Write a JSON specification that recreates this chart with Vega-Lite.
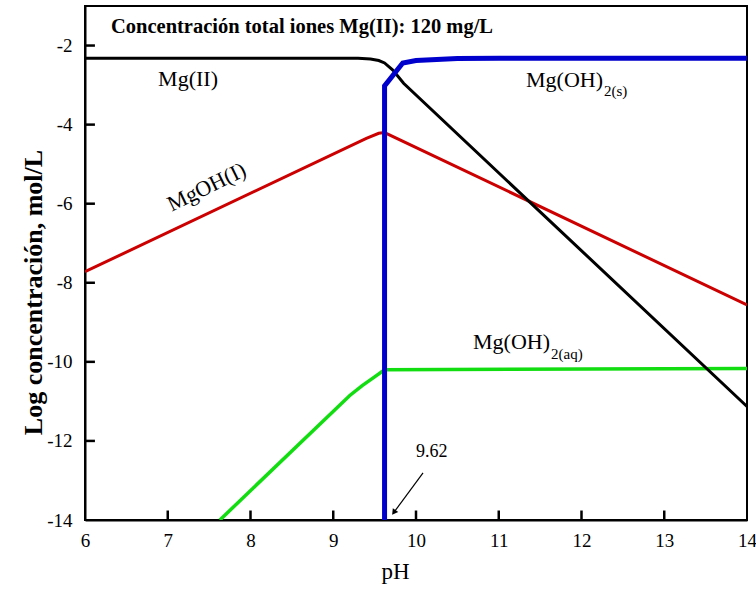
{
  "$schema": "https://vega.github.io/schema/vega-lite/v6.json",
  "width": 662,
  "height": 514,
  "autosize": "none",
  "padding": {"left": 85, "top": 6, "right": 9, "bottom": 72},
  "background": "white",
  "config": {
    "view": {"stroke": "black", "strokeWidth": 2},
    "font": "Liberation Serif"
  },
  "datasets": {
    "curves": [
      {"species": "MgOH", "pH": 6, "logC": -7.72},
      {"species": "MgOH", "pH": 9.4, "logC": -4.35},
      {"species": "MgOH", "pH": 9.55, "logC": -4.22},
      {"species": "MgOH", "pH": 9.62, "logC": -4.2},
      {"species": "MgOH", "pH": 14, "logC": -8.56},
      {"species": "MgOH2aq", "pH": 7.63, "logC": -14},
      {"species": "MgOH2aq", "pH": 9.2, "logC": -10.85},
      {"species": "MgOH2aq", "pH": 9.35, "logC": -10.6},
      {"species": "MgOH2aq", "pH": 9.5, "logC": -10.38},
      {"species": "MgOH2aq", "pH": 9.62, "logC": -10.2},
      {"species": "MgOH2aq", "pH": 14, "logC": -10.17},
      {"species": "MgII", "pH": 6, "logC": -2.32},
      {"species": "MgII", "pH": 9.3, "logC": -2.32},
      {"species": "MgII", "pH": 9.45, "logC": -2.34},
      {"species": "MgII", "pH": 9.55, "logC": -2.38},
      {"species": "MgII", "pH": 9.62, "logC": -2.44},
      {"species": "MgII", "pH": 9.72, "logC": -2.62},
      {"species": "MgII", "pH": 9.85, "logC": -2.955},
      {"species": "MgII", "pH": 14, "logC": -11.13},
      {"species": "MgOH2s", "pH": 9.62, "logC": -14},
      {"species": "MgOH2s", "pH": 9.62, "logC": -3.02},
      {"species": "MgOH2s", "pH": 9.84, "logC": -2.44},
      {"species": "MgOH2s", "pH": 10.0, "logC": -2.38},
      {"species": "MgOH2s", "pH": 10.5, "logC": -2.33},
      {"species": "MgOH2s", "pH": 11.0, "logC": -2.32},
      {"species": "MgOH2s", "pH": 14, "logC": -2.32}
    ]
  },
  "layer": [
    {
      "data": {"name": "curves"},
      "transform": [{"filter": "datum.species === 'MgOH'"}],
      "mark": {"type": "line", "color": "#cc0000", "strokeWidth": 3, "clip": true},
      "encoding": {
        "x": {
          "field": "pH", "type": "quantitative",
          "scale": {"domain": [6, 14], "nice": false, "zero": false},
          "axis": {
            "title": "pH",
            "values": [6, 7, 8, 9, 10, 11, 12, 13, 14],
            "labelExpr": "datum.value + ''",
            "grid": false,
            "ticks": false,
            "domainColor": "black", "domainWidth": 2,
            "labelFont": "Liberation Serif", "labelFontSize": 19, "labelColor": "black",
            "labelPadding": 11, "labelFlush": false, "labelOverlap": false,
            "titleFont": "Liberation Serif", "titleFontSize": 23, "titleFontWeight": "normal",
            "titleColor": "black", "titlePadding": 10, "titleX": 310
          }
        },
        "y": {
          "field": "logC", "type": "quantitative",
          "scale": {"domain": [-14, -1], "nice": false, "zero": false},
          "axis": {
            "title": "Log concentración, mol/L",
            "values": [-14, -12, -10, -8, -6, -4, -2],
            "labelExpr": "datum.value + ''",
            "grid": false,
            "ticks": false,
            "domainColor": "black", "domainWidth": 2,
            "labelFont": "Liberation Serif", "labelFontSize": 19, "labelColor": "black",
            "labelPadding": 13, "labelFlush": false, "labelOverlap": false,
            "titleFont": "Liberation Serif", "titleFontSize": 26, "titleFontWeight": "bold",
            "titleColor": "black", "titlePadding": 0, "titleY": 286
          }
        }
      }
    },
    {
      "data": {"name": "curves"},
      "transform": [{"filter": "datum.species === 'MgOH2aq'"}],
      "mark": {"type": "line", "color": "#11dd11", "strokeWidth": 3.5, "clip": true},
      "encoding": {
        "x": {"field": "pH", "type": "quantitative"},
        "y": {"field": "logC", "type": "quantitative"}
      }
    },
    {
      "data": {"name": "curves"},
      "transform": [{"filter": "datum.species === 'MgII'"}],
      "mark": {"type": "line", "color": "black", "strokeWidth": 3, "clip": true},
      "encoding": {
        "x": {"field": "pH", "type": "quantitative"},
        "y": {"field": "logC", "type": "quantitative"}
      }
    },
    {
      "data": {"name": "curves"},
      "transform": [{"filter": "datum.species === 'MgOH2s'"}],
      "mark": {"type": "line", "color": "#0000cc", "strokeWidth": 5, "clip": true},
      "encoding": {
        "x": {"field": "pH", "type": "quantitative"},
        "y": {"field": "logC", "type": "quantitative"}
      }
    },
    {
      "data": {"values": [{"pH": 6.314, "logC": -1.53, "label": "Concentración total iones Mg(II): 120 mg/L"}]},
      "mark": {"type": "text", "font": "Liberation Serif", "fontWeight": "bold", "fontSize": 20.5, "align": "left", "baseline": "middle", "color": "black"},
      "encoding": {
        "x": {"field": "pH", "type": "quantitative"},
        "y": {"field": "logC", "type": "quantitative"},
        "text": {"field": "label"}
      }
    },
    {
      "data": {"values": [{"pH": 7.245, "logC": -2.85, "label": "Mg(II)"}]},
      "mark": {"type": "text", "font": "Liberation Serif", "fontSize": 22, "align": "center", "baseline": "middle", "color": "black"},
      "encoding": {
        "x": {"field": "pH", "type": "quantitative"},
        "y": {"field": "logC", "type": "quantitative"},
        "text": {"field": "label"}
      }
    },
    {
      "data": {"values": [
        {"pH": 12.26, "logC": -2.87, "label": "Mg(OH)"},
        {"pH": 11.62, "logC": -9.5, "label": "Mg(OH)"}
      ]},
      "mark": {"type": "text", "font": "Liberation Serif", "fontSize": 22, "align": "right", "baseline": "middle", "color": "black"},
      "encoding": {
        "x": {"field": "pH", "type": "quantitative"},
        "y": {"field": "logC", "type": "quantitative"},
        "text": {"field": "label"}
      }
    },
    {
      "data": {"values": [
        {"pH": 12.26, "logC": -3.14, "label": "2(s)"},
        {"pH": 11.62, "logC": -9.8, "label": "2(aq)"}
      ]},
      "mark": {"type": "text", "font": "Liberation Serif", "fontSize": 15, "align": "left", "baseline": "middle", "dx": 1, "color": "black"},
      "encoding": {
        "x": {"field": "pH", "type": "quantitative"},
        "y": {"field": "logC", "type": "quantitative"},
        "text": {"field": "label"}
      }
    },
    {
      "data": {"values": [{"pH": 7.47, "logC": -5.58, "label": "MgOH(I)"}]},
      "mark": {"type": "text", "font": "Liberation Serif", "fontSize": 22, "align": "center", "baseline": "middle", "angle": 334, "color": "black"},
      "encoding": {
        "x": {"field": "pH", "type": "quantitative"},
        "y": {"field": "logC", "type": "quantitative"},
        "text": {"field": "label"}
      }
    },
    {
      "data": {"values": [{"pH": 10.19, "logC": -12.28, "label": "9.62"}]},
      "mark": {"type": "text", "font": "Liberation Serif", "fontSize": 18, "align": "center", "baseline": "middle", "color": "black"},
      "encoding": {
        "x": {"field": "pH", "type": "quantitative"},
        "y": {"field": "logC", "type": "quantitative"},
        "text": {"field": "label"}
      }
    },
    {
      "data": {"values": [{"pH": 10.085, "logC": -12.81, "pH2": 9.739, "logC2": -13.79}]},
      "mark": {"type": "rule", "color": "black", "strokeWidth": 1.2},
      "encoding": {
        "x": {"field": "pH", "type": "quantitative"},
        "y": {"field": "logC", "type": "quantitative"},
        "x2": {"field": "pH2"},
        "y2": {"field": "logC2"}
      }
    },
    {
      "data": {"values": [{"pH": 9.739, "logC": -13.79}]},
      "mark": {"type": "point", "shape": "triangle", "filled": true, "color": "black", "size": 45, "angle": 216, "opacity": 1},
      "encoding": {
        "x": {"field": "pH", "type": "quantitative"},
        "y": {"field": "logC", "type": "quantitative"}
      }
    },
    {
      "data": {"values": [
        {"pH": 7, "logC": -14, "pH2": 7, "logC2": -13.76},
        {"pH": 8, "logC": -14, "pH2": 8, "logC2": -13.76},
        {"pH": 9, "logC": -14, "pH2": 9, "logC2": -13.76},
        {"pH": 10, "logC": -14, "pH2": 10, "logC2": -13.76},
        {"pH": 11, "logC": -14, "pH2": 11, "logC2": -13.76},
        {"pH": 12, "logC": -14, "pH2": 12, "logC2": -13.76},
        {"pH": 13, "logC": -14, "pH2": 13, "logC2": -13.76},
        {"pH": 6, "logC": -12, "pH2": 6.12, "logC2": -12},
        {"pH": 6, "logC": -10, "pH2": 6.12, "logC2": -10},
        {"pH": 6, "logC": -8, "pH2": 6.12, "logC2": -8},
        {"pH": 6, "logC": -6, "pH2": 6.12, "logC2": -6},
        {"pH": 6, "logC": -4, "pH2": 6.12, "logC2": -4},
        {"pH": 6, "logC": -2, "pH2": 6.12, "logC2": -2}
      ]},
      "mark": {"type": "rule", "color": "black", "strokeWidth": 2.5},
      "encoding": {
        "x": {"field": "pH", "type": "quantitative"},
        "y": {"field": "logC", "type": "quantitative"},
        "x2": {"field": "pH2"},
        "y2": {"field": "logC2"}
      }
    }
  ]
}
